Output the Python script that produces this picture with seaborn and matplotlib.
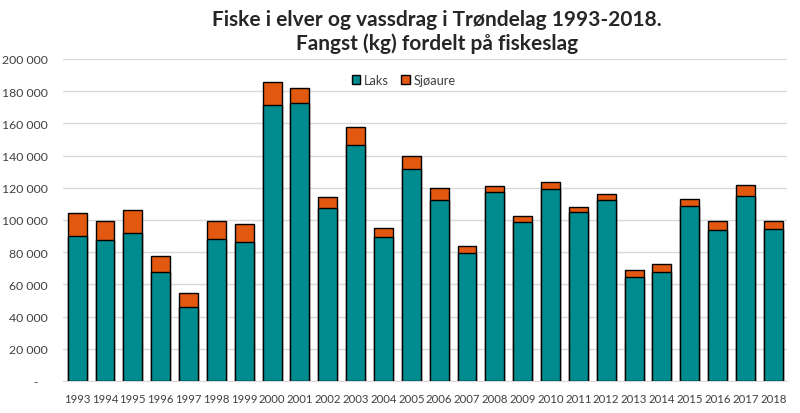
import matplotlib
matplotlib.use("Agg")
import matplotlib.pyplot as plt
import pandas as pd
import seaborn as sns
from matplotlib.ticker import FuncFormatter

years = [str(y) for y in range(1993, 2019)]
laks = [90200, 87800, 91700, 67500, 45800, 88200, 86100, 171600, 172700, 107500,
        146800, 89200, 131700, 112400, 79500, 117200, 98600, 119400, 104800, 112200,
        64400, 67500, 108900, 93600, 115100, 94200]
sjoaure = [14300, 11400, 14500, 10300, 8900, 11200, 11200, 14300, 9300, 6800,
           11000, 6000, 7800, 7500, 4400, 4100, 3900, 4200, 3100, 3900,
           4500, 5200, 4300, 5600, 6400, 5200]

df = pd.DataFrame({"year": years, "Laks": laks, "Sjøaure": sjoaure})
df["total"] = df["Laks"] + df["Sjøaure"]

sns.set_style("white")
plt.rcParams["font.family"] = ["Lato", "DejaVu Sans"]

teal = "#008B8E"
orange = "#E2580F"

fig = plt.figure(figsize=(8, 4.14), dpi=100)
ax = fig.add_axes([0.079, 0.0773, 0.905, 0.778])

# total (orange) behind, laks (teal) on top -> stacked look
sns.barplot(data=df, x="year", y="total", color=orange, saturation=1,
            edgecolor="black", linewidth=1.0, width=0.68, ax=ax, label="Sjøaure", zorder=2)
sns.barplot(data=df, x="year", y="Laks", color=teal, saturation=1,
            edgecolor="black", linewidth=1.0, width=0.68, ax=ax, label="Laks", zorder=3)

ax.set_ylim(0, 200000)
ax.set_xlim(-0.5, len(years) - 0.5)
ax.set_yticks(range(0, 200001, 20000))
ax.yaxis.set_major_formatter(FuncFormatter(
    lambda v, p: "-   " if v == 0 else f"{int(v):,}".replace(",", " ")))
ax.grid(axis="y", color="#d9d9d9", linewidth=1.0, zorder=0)
ax.set_axisbelow(True)
for s in ["top", "right", "left"]:
    ax.spines[s].set_visible(False)
ax.spines["bottom"].set_color("#d9d9d9")
ax.tick_params(axis="both", length=0, colors="#404040")
ax.tick_params(axis="x", pad=9, labelsize=8.2)
ax.tick_params(axis="y", pad=11, labelsize=8.8)
ax.set_xlabel("")
ax.set_ylabel("")

handles, labels = ax.get_legend_handles_labels()
order = [labels.index("Laks"), labels.index("Sjøaure")]
ax.legend([handles[i] for i in order], [labels[i] for i in order],
          loc="upper center", bbox_to_anchor=(0.47, 0.99), ncol=2, frameon=False,
          fontsize=9.2, handlelength=0.7, handleheight=0.7, handletextpad=0.3,
          columnspacing=0.9, labelcolor="#404040")

fig.text(0.546, 0.975, "Fiske i elver og vassdrag i Trøndelag 1993-2018.\nFangst (kg) fordelt på fiskeslag",
         ha="center", va="top", fontsize=15, fontweight="bold", color="#262626",
         linespacing=1.2)

fig.savefig("out.png", dpi=100, facecolor="white")
